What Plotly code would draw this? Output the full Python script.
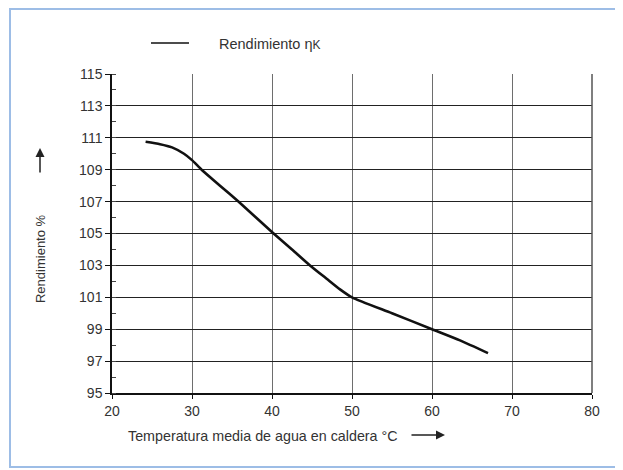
import plotly.graph_objects as go

# Data
temp_c = [24.2, 26.0, 27.5, 29.0, 30.0, 31.2, 33.5, 35.8, 40.2, 42.5, 44.75, 47.0, 48.5, 50.0, 55.0, 60.0, 63.5, 67.0]
rendimiento = [110.75, 110.6, 110.4, 110.0, 109.6, 109.0, 108.0, 107.0, 105.0, 104.0, 103.0, 102.1, 101.5, 101.0, 100.0, 99.0, 98.3, 97.5]
x_ticks = [20, 30, 40, 50, 60, 70, 80]
y_ticks = [95, 97, 99, 101, 103, 105, 107, 109, 111, 113, 115]

FONT = "Liberation Sans, Arial, sans-serif"
TXT = "#333333"

fig = go.Figure()
fig.add_trace(go.Scatter(x=temp_c, y=rendimiento, mode="lines",
                         line=dict(color="#111111", width=2.6, shape="spline", smoothing=0.6),
                         showlegend=False, hoverinfo="skip"))

fig.update_layout(
    width=615, height=462,
    margin=dict(l=104, r=31, t=66, b=77),
    paper_bgcolor="white", plot_bgcolor="white",
    font=dict(family=FONT, size=13, color=TXT),
    xaxis=dict(range=[20, 80], tickvals=x_ticks, showgrid=True, gridcolor="#6e6e6e", gridwidth=1.3,
               showline=True, linecolor="#111111", linewidth=1.5, ticks="outside", ticklen=4,
               tickcolor="#111111", tickfont=dict(size=14, color=TXT), zeroline=False, mirror=False),
    yaxis=dict(range=[95, 115], tickvals=y_ticks, showgrid=True, gridcolor="#222222", gridwidth=1.4,
               showline=True, linecolor="#111111", linewidth=1.5, ticks="outside", ticklen=5,
               tickcolor="#111111", tickfont=dict(size=14, color=TXT), zeroline=False,
               minor=dict(dtick=1, tick0=95, ticks="inside", ticklen=4, tickcolor="#444444", showgrid=False)),
    shapes=[
        # outer light-blue frame
        dict(type="rect", xref="paper", yref="paper", x0=-0.2125, x1=1.075, y0=-0.232, y1=1.2038,
             line=dict(color="#9dbde6", width=2), layer="below"),
        # right edge line at 80
        dict(type="line", xref="paper", yref="paper", x0=1, x1=1, y0=0, y1=1,
             line=dict(color="#555555", width=1.5)),
        # legend sample line
        dict(type="line", xref="paper", yref="paper", x0=0.08125, x1=0.1604, y0=1.0972, y1=1.0972,
             line=dict(color="#111111", width=1.5)),
    ],
    annotations=[
        dict(text="Rendimiento η<span style='font-size:12px'>K</span>", xref="paper", yref="paper",
             x=0.21875, y=1.094, xanchor="left", yanchor="middle", showarrow=False,
             font=dict(size=14.5, color=TXT)),
        dict(text="Rendimiento %", xref="paper", yref="paper", x=-0.15, y=0.42, textangle=-90,
             xanchor="center", yanchor="middle", showarrow=False, font=dict(size=13, color=TXT)),
        dict(text="Temperatura media de agua en caldera °C", xref="paper", yref="paper",
             x=0.3156, y=-0.1348, xanchor="center", yanchor="middle", showarrow=False,
             font=dict(size=14.3, color=TXT)),
        dict(text="", xref="paper", yref="paper", x=-0.15, y=0.768, ax=0, ay=26,
             showarrow=True, arrowhead=2, arrowsize=1.2, arrowwidth=1.5, arrowcolor="#222222"),
        dict(text="", xref="paper", yref="paper", x=0.6937, y=-0.1317, ax=-35, ay=0,
             showarrow=True, arrowhead=2, arrowsize=1.2, arrowwidth=1.5, arrowcolor="#222222"),
    ],
)

fig.write_html("out.html")
